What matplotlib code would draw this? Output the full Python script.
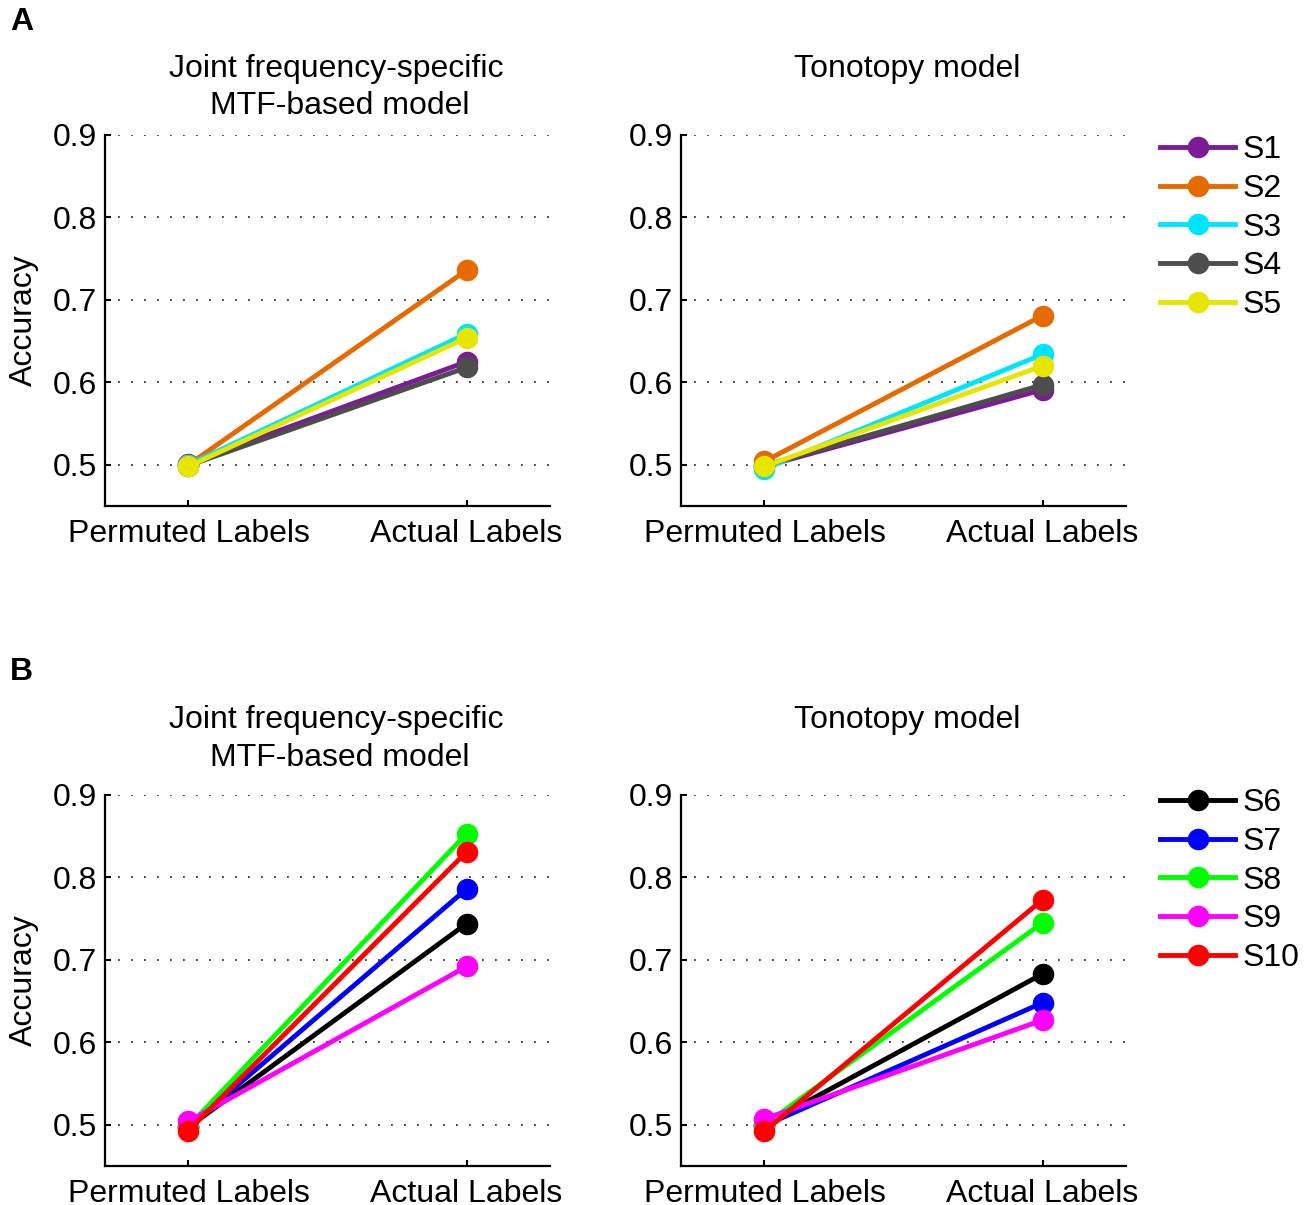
import matplotlib
matplotlib.use("Agg")
import matplotlib.pyplot as plt

plt.rcParams['font.family'] = ['Liberation Sans', 'DejaVu Sans']

conditions = ["Permuted Labels", "Actual Labels"]

subjects_a = ["S1", "S2", "S3", "S4", "S5"]
colors_a = ["#7B1C96", "#E66A00", "#00E5FF", "#4D4D4D", "#E6E600"]
mtf_a_perm = [0.501, 0.500, 0.500, 0.499, 0.498]
mtf_a_act = [0.625, 0.736, 0.659, 0.618, 0.654]
tono_a_perm = [0.498, 0.504, 0.495, 0.499, 0.498]
tono_a_act = [0.591, 0.681, 0.634, 0.597, 0.620]

subjects_b = ["S6", "S7", "S8", "S9", "S10"]
colors_b = ["#000000", "#0000FF", "#00FF00", "#FF00FF", "#FF0000"]
mtf_b_perm = [0.497, 0.497, 0.498, 0.504, 0.493]
mtf_b_act = [0.744, 0.786, 0.853, 0.692, 0.831]
tono_b_perm = [0.500, 0.499, 0.500, 0.507, 0.492]
tono_b_act = [0.683, 0.648, 0.745, 0.627, 0.773]

yticks = [0.5, 0.6, 0.7, 0.8, 0.9]

FS = 23

W, H = 1310, 1205
fig = plt.figure(figsize=(W / 100, H / 100), dpi=100)


def fx(px):
    return px / W


def fy(py):
    return 1 - py / H


axw = 445 / W
axh = 371 / H
positions = {
    "a_mtf": [fx(105), fy(506), axw, axh],
    "a_tono": [fx(681), fy(506), axw, axh],
    "b_mtf": [fx(105), fy(1166), axw, axh],
    "b_tono": [fx(681), fy(1166), axw, axh],
}


def make_axes(key, perm, act, colors, labels):
    ax = fig.add_axes(positions[key])
    xs = [1, 2]
    handles = []
    for p, a, c, lab in zip(perm, act, colors, labels):
        h, = ax.plot(xs, [p, a], color=c, lw=3.5, marker='o', ms=14.5,
                     mfc=c, mec=c, label=lab, clip_on=False, zorder=3)
        handles.append(h)
    ax.set_xlim(0.7, 2.3)
    ax.set_ylim(0.45, 0.9)
    ax.set_yticks(yticks)
    ax.set_yticklabels([f"{v:.1f}" for v in yticks])
    ax.set_xticks(xs)
    ax.set_xticklabels(conditions)
    for s in ["top", "right"]:
        ax.spines[s].set_visible(False)
    for s in ["left", "bottom"]:
        ax.spines[s].set_linewidth(1.6)
        ax.spines[s].set_color("black")
    ax.tick_params(axis='both', direction='in', length=4, width=1.5,
                   labelsize=FS, colors='black')
    ax.tick_params(axis='y', pad=6)
    ax.tick_params(axis='x', pad=9)
    ax.yaxis.grid(True, linestyle=(0, (1, 6.2)), linewidth=1.3, color='#333333')
    ax.set_axisbelow(True)
    return ax, handles


ax1, h1 = make_axes("a_mtf", mtf_a_perm, mtf_a_act, colors_a, subjects_a)
ax2, h2 = make_axes("a_tono", tono_a_perm, tono_a_act, colors_a, subjects_a)
ax3, h3 = make_axes("b_mtf", mtf_b_perm, mtf_b_act, colors_b, subjects_b)
ax4, h4 = make_axes("b_tono", tono_b_perm, tono_b_act, colors_b, subjects_b)

# Titles
for ytop, yb in [(69, 106), (720, 758)]:
    fig.text(fx(336), fy(ytop), "Joint frequency-specific", ha='center', va='center', fontsize=FS)
    fig.text(fx(340), fy(yb), "MTF-based model", ha='center', va='center', fontsize=FS)
    fig.text(fx(907), fy(ytop), "Tonotopy model", ha='center', va='center', fontsize=FS)

# y labels
fig.text(fx(24), fy(320), "Accuracy", rotation=90, ha='center', va='center', fontsize=FS)
fig.text(fx(24), fy(980), "Accuracy", rotation=90, ha='center', va='center', fontsize=FS)

# panel letters
fig.text(fx(10), fy(22), "A", ha='left', va='center', fontsize=FS, fontweight='bold')
fig.text(fx(10), fy(672), "B", ha='left', va='center', fontsize=FS, fontweight='bold')

# legends
for handles, labels, ytop in [(h2, subjects_a, 135), (h4, subjects_b, 788)]:
    fig.legend(handles, labels, loc='upper left',
               bbox_to_anchor=(fx(1160), fy(ytop)), frameon=False,
               fontsize=FS, handlelength=2.35, handletextpad=0.22,
               labelspacing=0.275, borderpad=0, borderaxespad=0)

fig.savefig("out.png", dpi=100)
